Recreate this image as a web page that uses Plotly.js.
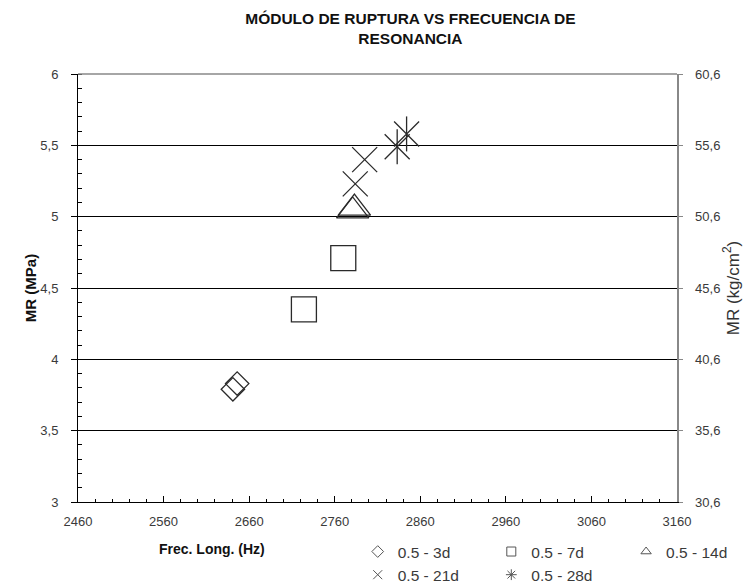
<!DOCTYPE html>
<html><head><meta charset="utf-8">
<script src="https://cdn.plot.ly/plotly-3.0.1.min.js"></script>
<style>body{margin:0;background:#fff}#c{width:752px;height:585px}</style>
</head><body><div id="c"></div>
<script>
const x3d = [2641, 2646], y3d = [3.79, 3.83];
const x7d = [2724, 2770], y7d = [4.35, 4.71];
const x14d = [2781, 2783], y14d = [5.04, 5.06];
const x21d = [2784, 2795], y21d = [5.23, 5.40];
const x28d = [2833, 2844], y28d = [5.49, 5.58];
const names = ['0.5 - 3d', '0.5 - 7d', '0.5 - 14d', '0.5 - 21d', '0.5 - 28d'];
const xTicks = [2460, 2560, 2660, 2760, 2860, 2960, 3060, 3160];
const yTicks = [3, 3.5, 4, 4.5, 5, 5.5, 6];
const y2Ticks = [30.6, 35.6, 40.6, 45.6, 50.6, 55.6, 60.6];

const col = '#2a2a2a';
const FF = 'Liberation Sans, Arial, sans-serif';
function pts(x, y, sym, size, extra) {
  return Object.assign({x: x, y: y, type: 'scatter', mode: 'markers', showlegend: false, hoverinfo: 'x+y',
    marker: {symbol: sym, size: size, color: col, line: {color: col, width: 1.3}}}, extra || {});
}
function leg(name, sym, lg) {
  return {x: [null], y: [null], type: 'scatter', mode: 'markers', name: name, legend: lg,
    marker: {symbol: sym, size: 9, color: '#555', line: {color: '#555', width: 1}}};
}
const data = [
  pts(x3d, y3d, 'diamond-open', 18),
  pts(x7d, y7d, 'square-open', 25),
  pts(x14d, y14d, 'triangle-up-open', 28),
  pts(x21d, y21d, 'x-thin-open', 25),
  pts(x28d, y28d, 'x-thin-open', 25),
  pts(x28d, y28d, 'line-ns-open', 25),
  leg(names[0], 'diamond-open', 'legend'),
  leg(names[3], 'x-thin-open', 'legend'),
  leg(names[1], 'square-open', 'legend2'),
  leg(names[4], 'asterisk-open', 'legend2'),
  leg(names[2], 'triangle-up-open', 'legend3'),
  {x: [2460, 3160], y: [30.6, 60.6], yaxis: 'y2', type: 'scatter', mode: 'markers', marker: {opacity: 0}, showlegend: false, hoverinfo: 'skip'}
];
const tickFont = {family: FF, size: 13, color: '#3a3a3a'};
const legBase = {orientation: 'v', xanchor: 'left', yanchor: 'top', yref: 'paper', xref: 'paper', y: -0.077,
  font: {family: FF, size: 15.5, color: '#3a3a3a'},
  itemwidth: 30, tracegroupgap: 0, bgcolor: 'rgba(0,0,0,0)', borderwidth: 0};
const layout = {
  width: 752, height: 585,
  margin: {l: 78, r: 75, t: 74, b: 83, autoexpand: false},
  paper_bgcolor: '#fff', plot_bgcolor: '#fff',
  separators: ',.',
  title: {text: '<b>MÓDULO DE RUPTURA VS FRECUENCIA DE<br>RESONANCIA</b>', x: 0.555, xref: 'paper', xanchor: 'center', y: 0.959, yanchor: 'top',
    font: {family: FF, size: 15.5, color: '#111'}},
  xaxis: {range: [2460, 3160], tickvals: xTicks, ticktext: xTicks.map(String), showgrid: false, zeroline: false,
    showline: true, linecolor: '#000', linewidth: 1, ticks: 'inside', ticklen: 6, tickcolor: '#000',
    minor: {ticks: 'inside', dtick: 20, tick0: 2460, ticklen: 3, tickcolor: '#000'},
    tickfont: tickFont, ticklabelstandoff: 7},
  yaxis: {range: [3, 6], tickvals: yTicks, showgrid: true, gridcolor: '#000', gridwidth: 1, zeroline: false,
    showline: true, linecolor: '#000', linewidth: 1, ticks: 'outside', ticklen: 6, tickcolor: '#000',
    minor: {ticks: 'inside', dtick: 0.1, tick0: 3, ticklen: 4, tickcolor: '#000', showgrid: false},
    tickfont: tickFont, ticklabelstandoff: 10,
    title: {text: '<b>MR (MPa)</b>', standoff: 0, font: {family: FF, size: 15, color: '#111'}}},
  yaxis2: {overlaying: 'y', side: 'right', range: [30.6, 60.6], tickvals: y2Ticks, showgrid: false, zeroline: false,
    showline: true, linecolor: '#888', linewidth: 1.5, ticks: 'outside', ticklen: 4, tickcolor: '#888',
    tickfont: tickFont, ticklabelstandoff: 10,
    title: {text: 'MR (kg/cm<sup>2</sup>)', standoff: 3, font: {family: FF, size: 17, color: '#333'}}},
  shapes: [{type: 'line', xref: 'paper', yref: 'paper', x0: 0, x1: 1, y0: 1, y1: 1, line: {color: '#888', width: 1.5}}],
  annotations: [{text: '<b>Frec. Long. (Hz)</b>', xref: 'paper', yref: 'paper', x: 0.224, y: -0.11, xanchor: 'center', yanchor: 'middle',
    showarrow: false, font: {family: FF, size: 14, color: '#111'}}],
  legend: Object.assign({x: 0.467}, legBase),
  legend2: Object.assign({x: 0.69}, legBase),
  legend3: Object.assign({x: 0.915}, legBase),
  showlegend: true
};
Plotly.newPlot('c', data, layout, {displayModeBar: false, staticPlot: true});
</script></body></html>
